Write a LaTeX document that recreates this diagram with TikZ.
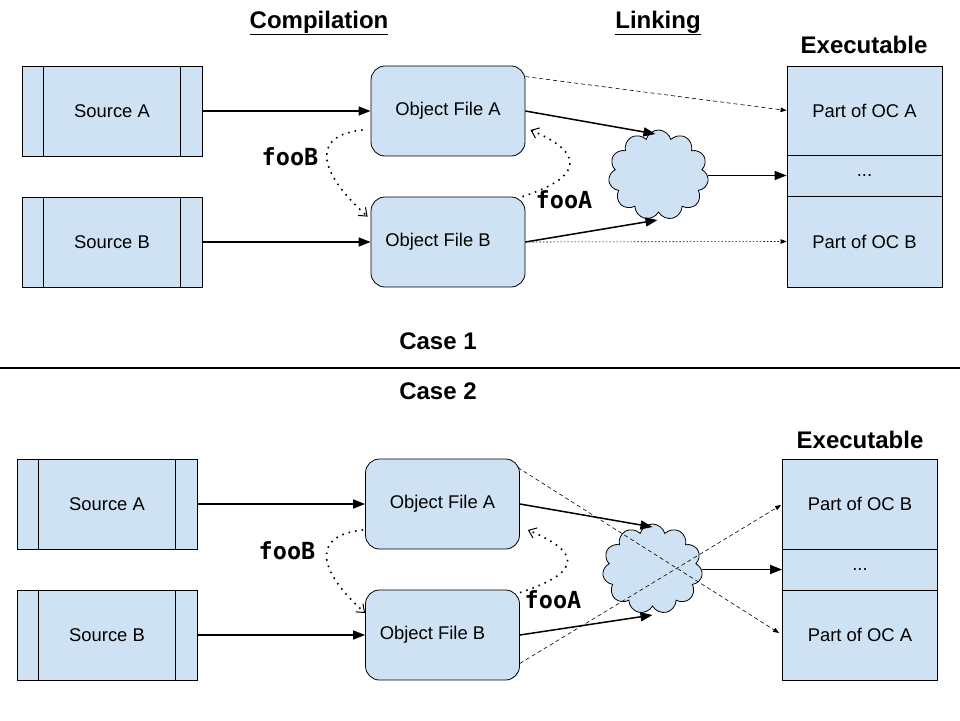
\documentclass[tikz,border=0pt]{standalone}
\usepackage{fontspec}
\setmainfont{Liberation Sans}
\newfontfamily\codefont{DejaVu Sans Mono}
\usetikzlibrary{arrows.meta,shapes.symbols,calc}
\definecolor{boxblue}{RGB}{207,226,243}
\begin{document}
\begin{tikzpicture}[x=1pt,y=-1pt,
  txt/.style={font=\fontsize{18.4}{21}\selectfont},
  src/.style={draw, fill=boxblue, line width=0.8pt, minimum width=180pt, minimum height=90pt, inner sep=0pt, txt},
  obj/.style={draw, fill=boxblue, line width=0.8pt, rounded corners=14pt, minimum width=154pt, minimum height=90pt, inner sep=0pt, txt},
  part/.style={draw, fill=boxblue, line width=0.8pt, minimum width=155pt, inner sep=0pt, txt},
  cloudst/.style={cloud, cloud puffs=11, aspect=1.1, draw, fill=boxblue, line width=0.8pt, minimum width=100pt, minimum height=90pt, inner sep=0pt},
  title/.style={font=\fontsize{24}{28}\selectfont\bfseries},
  code/.style={font=\fontsize{23.5}{27}\selectfont\codefont\bfseries},
  solidarrow/.style={line width=1.5pt, -{Triangle[length=12pt,width=9pt]}},
  thinarrow/.style={line width=0.6pt, -{Triangle[length=6pt,width=4.5pt]}},
  dasharrow/.style={thinarrow, dash pattern=on 4pt off 3pt},
  dotthin/.style={thinarrow, dash pattern=on 1.5pt off 2pt},
  dotarrow/.style={line width=1.6pt, dash pattern=on 1.6pt off 5pt, -{Straight Barb[length=7pt,width=11pt,line width=1pt]}}
]
\useasboundingbox (0,0) rectangle (960,720);

% ---------- titles ----------
\node[title] (tcomp) at (319,23) {\underline{Compilation}};
\node[title] (tlink) at (658,23) {\underline{Linking}};
\node[title] (texe1) at (864,45) {Executable};
\node[title] (case1) at (438,341) {Case 1};
\node[title] (case2) at (438,391) {Case 2};
\coordinate (sepL) at (0,368);
\coordinate (sepR) at (960,368);
\draw[line width=2pt] (sepL) -- (sepR);

% ---------- case 1 ----------
\node[src] (sA1) at (112,111) {Source A};
\node[src] (sB1) at (112,242) {Source B};
\node[obj] (oA1) at (448,111) {Object File A};
\node[obj] (oB1) at (448,242) {Object File B\kern20pt};
\node[part, minimum height=89pt] (pA1) at (864.5,110.5) {Part of OC A};
\node[part, minimum height=41pt] (pD1) at (864.5,175.5) {...};
\node[part, minimum height=91pt] (pB1) at (864.5,241.5) {Part of OC B};
\node[cloudst] (cl1) at (658.5,175) {};

% ---------- case 2 ----------
\node[title] (texe2) at (860,440) {Executable};
\node[src] (sA2) at (107,504) {Source A};
\node[src] (sB2) at (107,635) {Source B};
\node[obj] (oA2) at (442.5,504) {Object File A};
\node[obj] (oB2) at (442.5,635) {Object File B\kern20pt};
\node[part, minimum height=90pt] (pB2) at (860,504) {Part of OC B};
\node[part, minimum height=41pt] (pD2) at (860,569.5) {...};
\node[part, minimum height=90pt] (pA2) at (860,635) {Part of OC A};
\node[cloudst] (cl2) at (652.5,569) {};

% source side bars
\foreach \n in {sA1,sB1,sA2,sB2}{
  \draw[line width=0.8pt] ([xshift=22pt]\n.north west) -- ([xshift=22pt]\n.south west);
  \draw[line width=0.8pt] ([xshift=-22pt]\n.north east) -- ([xshift=-22pt]\n.south east);
}

% ---------- connectors case 1 ----------
\draw[solidarrow] (sA1.east) -- (oA1.west);
\draw[solidarrow] (sB1.east) -- (oB1.west);
\draw[solidarrow] (oA1.east) -- ([shift={(-3,-41)}]cl1.center);
\draw[solidarrow] (oB1.east) -- ([shift={(-1,45)}]cl1.center);
\draw[solidarrow] (cl1.east |- pD1.west) -- (pD1.west);
\draw[dasharrow] ([shift={(0,11)}]oA1.north east) -- (pA1.west);
\draw[dotthin] (oB1.east) -- (pB1.west);
\draw[dotarrow] ([shift={(-8,19)}]oA1.west) .. controls +(-50,5) and +(-52,-47) .. ([shift={(-3,20)}]oB1.north west);
\draw[dotarrow] ([shift={(-3,0)}]oB1.north east) .. controls +(68,-22) and +(48,20) .. ([shift={(5,19)}]oA1.east);
\node[code] (fooB1) at (290,157) {fooB};
\node[code] (fooA1) at (564,200) {fooA};

% ---------- connectors case 2 ----------
\draw[solidarrow] (sA2.east) -- (oA2.west);
\draw[solidarrow] (sB2.east) -- (oB2.west);
\draw[solidarrow] (oA2.east) -- ([shift={(0,-42)}]cl2.center);
\draw[solidarrow] (oB2.east) -- ([shift={(0,46)}]cl2.center);
\draw[solidarrow] (cl2.east |- pD2.west) -- (pD2.west);
\draw[dasharrow] ([shift={(-2,9)}]oA2.north east) -- ([shift={(-3,-2)}]pA2.west);
\draw[dasharrow] ([shift={(0,-17)}]oB2.south east) -- ([shift={(-1,1)}]pB2.west);
\draw[dotarrow] ([shift={(-2,26)}]oA2.west) .. controls +(-50,5) and +(-50,-45) .. ([shift={(0,-22)}]oB2.west);
\draw[dotarrow] ([shift={(0,3)}]oB2.north east) .. controls +(68,-22) and +(48,20) .. ([shift={(8,26)}]oA2.east);
\node[code] (fooB2) at (287,551) {fooB};
\node[code] (fooA2) at (553,600) {fooA};
\end{tikzpicture}
\end{document}
